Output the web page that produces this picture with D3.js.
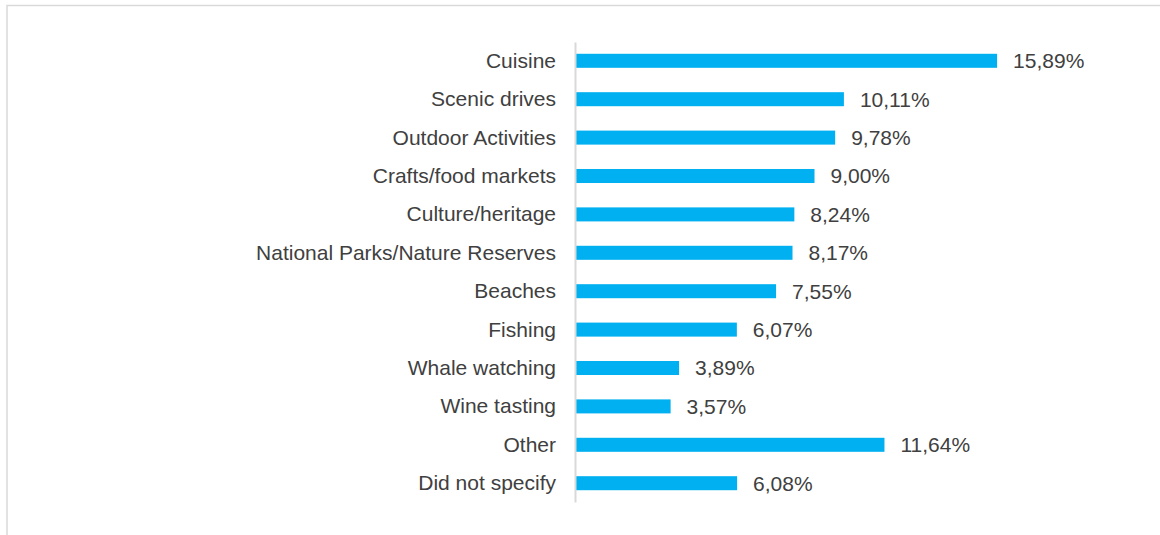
<!DOCTYPE html>
<html>
<head>
<meta charset="utf-8">
<script src="https://cdn.jsdelivr.net/npm/d3@7"></script>
<style>
  html, body { margin: 0; padding: 0; background: #fff; }
  svg { display: block; font-family: "Liberation Sans", Arial, sans-serif; }
</style>
</head>
<body>
<svg id="chart"></svg>
<script>
const categories = [
  "Cuisine", "Scenic drives", "Outdoor Activities", "Crafts/food markets",
  "Culture/heritage", "National Parks/Nature Reserves", "Beaches", "Fishing",
  "Whale watching", "Wine tasting", "Other ", "Did not specify"
];
const values = [15.89, 10.11, 9.78, 9.00, 8.24, 8.17, 7.55, 6.07, 3.89, 3.57, 11.64, 6.08];

const W = 1160, H = 535;
const svg = d3.select("#chart").attr("width", W).attr("height", H);

// Frame around the chart area
svg.append("path")
  .attr("d", `M7,${H} L7,5.5 L${W},5.5`)
  .attr("fill", "none")
  .attr("stroke", "#d9d9d9")
  .attr("stroke-width", 1.5);

const x = d3.scaleLinear().domain([0, 16]).range([576, 1000]);
const y = d3.scaleBand().domain(categories).range([42, 502])
  .paddingInner(0.635).paddingOuter(0.307);

const data = categories.map((c, i) => ({cat: c, val: values[i]}));

// Bars
svg.append("g").selectAll("rect")
  .data(data)
  .enter().append("rect")
  .attr("x", x(0))
  .attr("y", d => y(d.cat))
  .attr("width", d => x(d.val) - x(0))
  .attr("height", y.bandwidth())
  .attr("fill", "#00b0f0");

// Category axis
const axis = svg.append("g")
  .attr("transform", `translate(${x(0) - 1},0)`)
  .call(d3.axisLeft(y).tickSize(0).tickPadding(19));
axis.select(".domain").attr("stroke", "#d9d9d9").attr("stroke-width", 2);
axis.selectAll("text")
  .attr("fill", "#404040")
  .style("font-size", "21px")
  .style("font-family", "'Liberation Sans', Arial, sans-serif")
  .attr("dy", "0.33em");

// Value labels
const fmt = v => v.toFixed(2).replace(".", ",") + "%";
svg.append("g").selectAll("text")
  .data(data)
  .enter().append("text")
  .attr("x", d => x(d.val) + 16)
  .attr("y", d => y(d.cat) + y.bandwidth() / 2)
  .attr("dy", "0.35em")
  .attr("fill", "#404040")
  .style("font-size", "21px")
  .text(d => fmt(d.val));
</script>
</body>
</html>
